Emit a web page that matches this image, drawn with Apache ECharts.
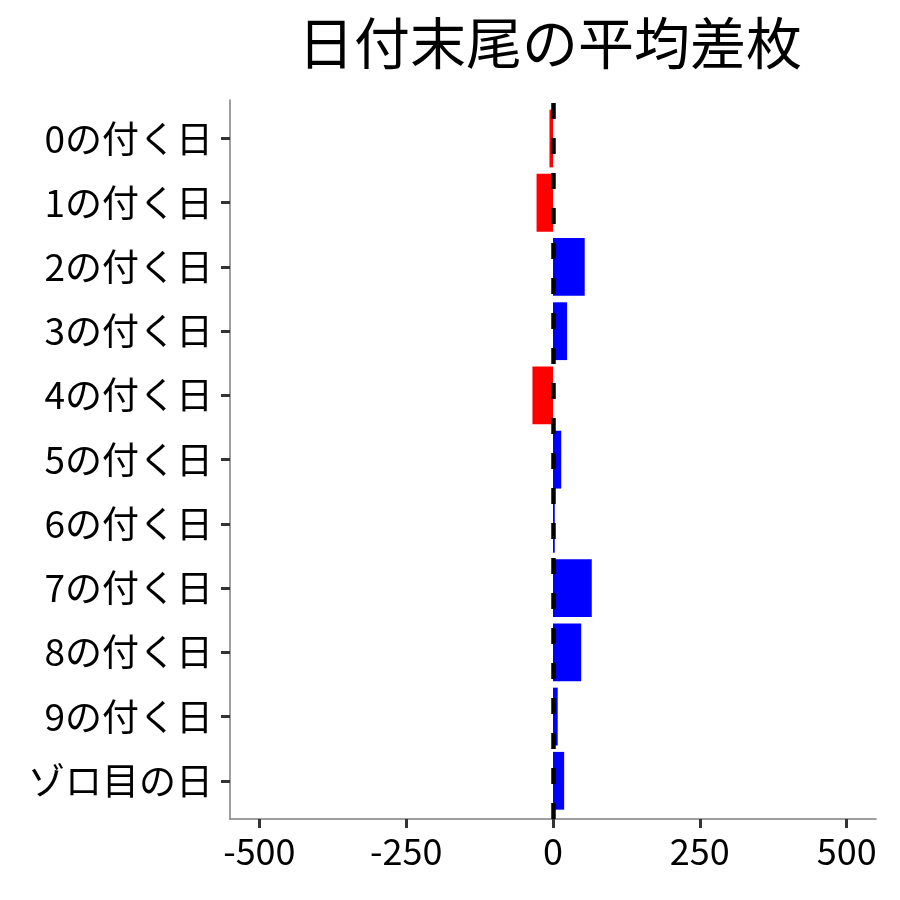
<!DOCTYPE html>
<html>
<head>
<meta charset="utf-8">
<script src="https://cdn.jsdelivr.net/npm/echarts@6/dist/echarts.min.js"></script>
<style>html,body{margin:0;padding:0;background:#fff}#c{width:900px;height:900px}</style>
</head>
<body>
<div id="c"></div>
<script>
const titleText = "日付末尾の平均差枚";
const categories = ["0の付く日","1の付く日","2の付く日","3の付く日","4の付く日","5の付く日","6の付く日","7の付く日","8の付く日","9の付く日","ゾロ目の日"];
const values = [-6, -28, 54, 24, -35, 14, 3, 66, 48, 8, 19];
const xTicks = [-500, -250, 0, 250, 500];
const xMin = -550, xMax = 550;

const chart = echarts.init(document.getElementById('c'), null, {renderer: 'canvas'});
const font = '"Noto Sans CJK JP", "Noto Sans", sans-serif';
chart.setOption({
  animation: false,
  backgroundColor: '#ffffff',
  title: {
    text: titleText,
    left: 293, top: 10,
    textStyle: {fontFamily: font, fontSize: 56, fontWeight: 'normal', color: '#000'}
  },
  grid: [
    {left: 230, right: 24, top: 100, bottom: 81},
    {left: 230, right: 24, top: 106.4, bottom: 87.1}
  ],
  xAxis: [{
    gridIndex: 0, type: 'value', min: xMin, max: xMax,
    splitLine: {show: false},
    axisLine: {show: true, onZero: false, lineStyle: {color: '#7f7f7f', width: 1.5}},
    axisTick: {show: true, customValues: xTicks, length: 9, lineStyle: {color: '#333', width: 3}},
    axisLabel: {customValues: xTicks, fontFamily: font, fontSize: 36, color: '#000', margin: 14}
  }, {
    gridIndex: 1, type: 'value', min: xMin, max: xMax, show: false
  }],
  yAxis: [{
    gridIndex: 0, type: 'value', min: 0, max: 1,
    splitLine: {show: false},
    axisLine: {show: true, onZero: false, lineStyle: {color: '#7f7f7f', width: 1.5}},
    axisTick: {show: false}, axisLabel: {show: false}
  }, {
    gridIndex: 1, type: 'category', data: categories, inverse: true,
    axisLine: {show: false, onZero: false},
    axisTick: {show: true, alignWithLabel: true, length: 9, lineStyle: {color: '#333', width: 3}},
    axisLabel: {fontFamily: font, fontSize: 37, color: '#000', margin: 17}
  }],
  series: [{
    type: 'bar', xAxisIndex: 1, yAxisIndex: 1,
    data: values.map(v => ({value: v, itemStyle: {color: v < 0 ? '#ff0000' : '#0000ff'}})),
    barCategoryGap: '10%'
  }, {
    type: 'scatter', xAxisIndex: 0, yAxisIndex: 0,
    data: [[0, 0.5]], symbolSize: 0, silent: true,
    markLine: {
      silent: true, symbol: 'none', label: {show: false},
      lineStyle: {color: '#000', width: 4.5, type: [16, 19]},
      data: [{xAxis: 0}]
    }
  }]
});
</script>
</body>
</html>
